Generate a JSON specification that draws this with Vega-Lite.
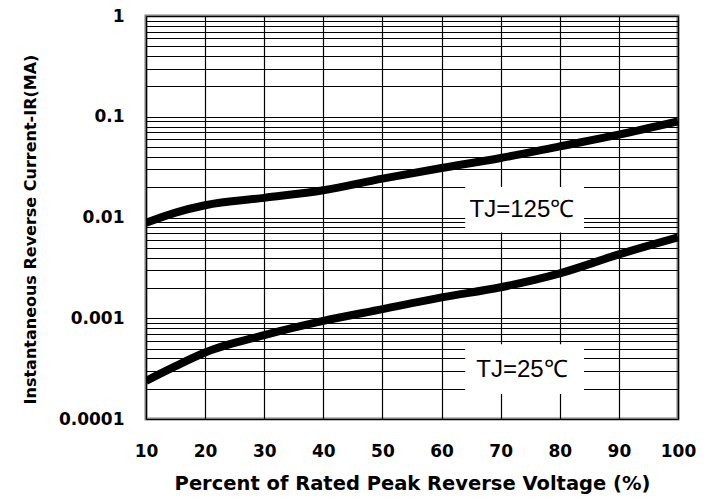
{
  "$schema": "https://vega.github.io/schema/vega-lite/v6.json",
  "width": 532,
  "height": 403,
  "autosize": {"type": "none"},
  "padding": {"left": 146, "top": 16, "right": 37, "bottom": 82},
  "background": "white",
  "config": {
    "view": {"stroke": "#7f7f7f", "strokeWidth": 3}
  },
  "datasets": {
    "curves": [
      {"v": 10, "ir": 0.00887, "s": "125"},
      {"v": 15, "ir": 0.0112, "s": "125"},
      {"v": 20, "ir": 0.01324, "s": "125"},
      {"v": 30, "ir": 0.01567, "s": "125"},
      {"v": 40, "ir": 0.01862, "s": "125"},
      {"v": 50, "ir": 0.0243, "s": "125"},
      {"v": 60, "ir": 0.0310, "s": "125"},
      {"v": 70, "ir": 0.0390, "s": "125"},
      {"v": 80, "ir": 0.0508, "s": "125"},
      {"v": 90, "ir": 0.0664, "s": "125"},
      {"v": 100, "ir": 0.0899, "s": "125"},
      {"v": 10, "ir": 0.000239, "s": "25"},
      {"v": 15, "ir": 0.000335, "s": "25"},
      {"v": 20, "ir": 0.000457, "s": "25"},
      {"v": 30, "ir": 0.000679, "s": "25"},
      {"v": 40, "ir": 0.000940, "s": "25"},
      {"v": 50, "ir": 0.00123, "s": "25"},
      {"v": 60, "ir": 0.00161, "s": "25"},
      {"v": 70, "ir": 0.00203, "s": "25"},
      {"v": 80, "ir": 0.00279, "s": "25"},
      {"v": 90, "ir": 0.0043, "s": "25"},
      {"v": 100, "ir": 0.00634, "s": "25"}
    ],
    "labels": [
      {"x1": 64, "x2": 84.1, "y1": 0.0201, "y2": 0.0071, "xm": 73.6, "ym": 0.0120, "t": "TJ=125℃"},
      {"x1": 64, "x2": 84.1, "y1": 0.000553, "y2": 0.000177, "xm": 73.6, "ym": 0.000306, "t": "TJ=25℃"}
    ]
  },
  "layer": [
    {
      "data": {"name": "curves"},
      "mark": {"type": "line", "color": "black", "strokeWidth": 8, "interpolate": "monotone", "clip": true},
      "encoding": {
        "x": {
          "field": "v", "type": "quantitative",
          "scale": {"domain": [10, 100], "nice": false, "zero": false},
          "axis": {
            "values": [10, 20, 30, 40, 50, 60, 70, 80, 90, 100],
            "grid": true, "gridColor": "black", "gridOpacity": 1, "gridWidth": 1.2,
            "ticks": false, "domain": false,
            "labelFont": "DejaVu Sans", "labelFontWeight": "bold", "labelFontSize": 17, "labelColor": "black",
            "labelPadding": 24, "labelFlush": false,
            "title": "Percent of Rated Peak Reverse Voltage (%)",
            "titleFont": "DejaVu Sans", "titleFontWeight": "bold", "titleFontSize": 19.5, "titleColor": "black",
            "titlePadding": 15
          }
        },
        "y": {
          "field": "ir", "type": "quantitative",
          "scale": {"type": "log", "domain": [0.0001, 1], "nice": false},
          "axis": {
            "values": [0.0001, 0.0002, 0.0003, 0.0004, 0.0005, 0.0006, 0.0007, 0.0008, 0.0009,
                       0.001, 0.002, 0.003, 0.004, 0.005, 0.006, 0.007, 0.008, 0.009,
                       0.01, 0.02, 0.03, 0.04, 0.05, 0.06, 0.07, 0.08, 0.09,
                       0.1, 0.2, 0.3, 0.4, 0.5, 0.6, 0.7, 0.8, 0.9, 1],
            "format": "~g",
            "labelExpr": "abs(log(datum.value)/LN10 - round(log(datum.value)/LN10)) < 0.000001 ? datum.label : ''",
            "grid": true, "gridColor": "black", "gridOpacity": 1, "gridWidth": 1.2,
            "ticks": false, "domain": false,
            "labelFont": "DejaVu Sans", "labelFontWeight": "bold", "labelFontSize": 17, "labelColor": "black",
            "labelPadding": 22, "labelFlush": false,
            "title": "Instantaneous Reverse Current-IR(MA)",
            "titleFont": "DejaVu Sans", "titleFontWeight": "bold", "titleFontSize": 16, "titleColor": "black",
            "titlePadding": 20,
            "titleY": 213
          }
        },
        "detail": {"field": "s"}
      }
    },
    {
      "data": {"name": "labels"},
      "mark": {"type": "rect", "color": "white", "opacity": 1},
      "encoding": {
        "x": {"field": "x1", "type": "quantitative"},
        "x2": {"field": "x2"},
        "y": {"field": "y1", "type": "quantitative"},
        "y2": {"field": "y2"}
      }
    },
    {
      "data": {"name": "labels"},
      "mark": {"type": "text", "font": "Liberation Sans", "fontSize": 24, "color": "black", "align": "center", "baseline": "middle"},
      "encoding": {
        "x": {"field": "xm", "type": "quantitative"},
        "y": {"field": "ym", "type": "quantitative"},
        "text": {"field": "t"}
      }
    }
  ]
}
